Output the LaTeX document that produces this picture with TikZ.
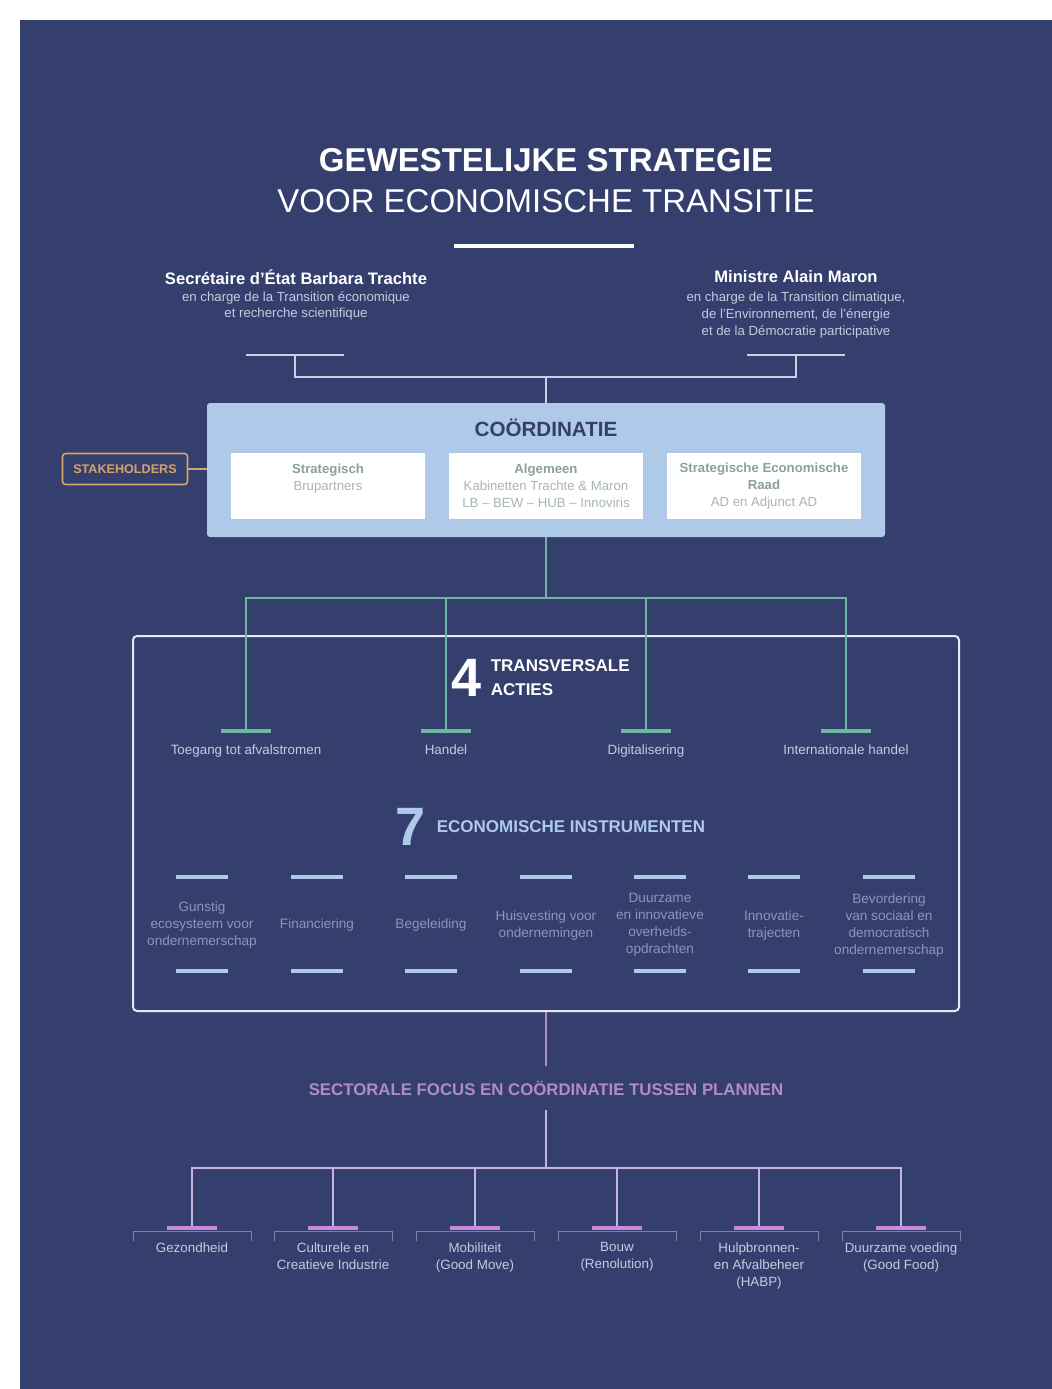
\documentclass[tikz,border=0pt]{standalone}
\usepackage{fontspec}
\setmainfont{Liberation Sans}
\usetikzlibrary{positioning}

\definecolor{bgnavy}{HTML}{353F6E}
\definecolor{paleblue}{HTML}{AFCAE9}
\definecolor{greyline}{HTML}{C9D0E6}
\definecolor{actgreen}{HTML}{6DB7A2}
\definecolor{softtext}{HTML}{C5CADD}
\definecolor{dimtext}{HTML}{8D95BA}
\definecolor{boxtext}{HTML}{A9B5B6}
\definecolor{boxhead}{HTML}{8AA196}
\definecolor{lilac}{HTML}{B48AC6}
\definecolor{lilacline}{HTML}{C4B6DA}
\definecolor{pinkbar}{HTML}{C98BD9}
\definecolor{bracketgrey}{HTML}{7A84AA}
\definecolor{stakeorange}{HTML}{D5A46A}
\definecolor{outline}{HTML}{E4E8F2}

\begin{document}
\begin{tikzpicture}[x=0.5pt, y=-0.5pt,
    every node/.style={inner sep=0pt, align=center},
    persname/.style={text=white, font=\bfseries\fontsize{8.3}{10}\selectfont},
    perssub/.style={text=softtext, font=\fontsize{6.6}{8.3}\selectfont},
    wbar/.style={fill=greyline, minimum width=49pt, minimum height=1.3pt},
    conn/.style={draw=greyline, line width=1pt},
    wbox/.style={fill=white, minimum width=97pt, minimum height=33pt, text=boxtext,
        font=\fontsize{6.6}{8.5}\selectfont},
    stakebox/.style={draw=stakeorange, line width=0.8pt, rounded corners=1.5pt, text=stakeorange,
        minimum width=62.5pt, minimum height=15.5pt, font=\bfseries\fontsize{6.3}{8}\selectfont},
    actbar/.style={fill=actgreen, minimum width=25pt, minimum height=2pt},
    actline/.style={draw=actgreen, line width=1pt},
    lbl/.style={text=softtext, font=\fontsize{6.7}{8.5}\selectfont},
    ibar/.style={fill=paleblue, minimum width=26pt, minimum height=1.6pt},
    ilbl/.style={text=dimtext, font=\fontsize{6.8}{8.5}\selectfont},
    bignum/.style={font=\bfseries\fontsize{27}{30}\selectfont},
    sectline/.style={draw=lilacline, line width=0.9pt},
    secbar/.style={fill=pinkbar, minimum width=25pt, minimum height=1.8pt},
    brk/.style={draw=bracketgrey, line width=0.5pt}]

    \useasboundingbox[fill=white] (0,0) rectangle (1052,1389);
    \fill[bgnavy] (20,20) rectangle (1052,1389);

    \node[font=\bfseries\fontsize{16.5}{20}\selectfont, text=white] (title) at (546,160) {GEWESTELIJKE STRATEGIE};
    \node[font=\fontsize{16.5}{20}\selectfont, text=white] (subtitle) at (546,201) {VOOR ECONOMISCHE TRANSITIE};
    \node[fill=white, minimum width=90pt, minimum height=1.6pt] (rule) at (544,246) {};

    \node[persname] (trachte) at (296,277) {Secrétaire d’État Barbara Trachte};
    \node[perssub] (trachtesub) at (296,306) {en charge de la Transition économique\\et recherche scientifique};
    \node[persname] (maron) at (796,277) {Ministre Alain Maron};
    \node[perssub] (maronsub) at (796,315) {en charge de la Transition climatique,\\de l’Environnement, de l’énergie\\et de la Démocratie participative};

    \node[wbar] (trachtebar) at (295,355) {};
    \node[wbar] (maronbar) at (796,355) {};
    \coordinate (topjoin) at (546,377);

    \node[fill=paleblue, minimum width=339pt, minimum height=67pt, rounded corners=1.5pt] (coord) at (546,470) {};
    \node[font=\bfseries\fontsize{10.3}{12}\selectfont, text=bgnavy] (coordtitle) at (546,428) {COÖRDINATIE};
    \node[wbox] (bru) at (328,486) {\textcolor{boxhead}{\bfseries Strategisch}\\Brupartners\\~};
    \node[wbox] (alg) at (546,486) {\textcolor{boxhead}{\bfseries Algemeen}\\Kabinetten Trachte \& Maron\\LB -- BEW -- HUB -- Innoviris};
    \node[wbox] (ser) at (764,486) {\textcolor{boxhead}{\bfseries Strategische Economische}\\\textcolor{boxhead}{\bfseries Raad}\\AD en Adjunct AD};

    \node[stakebox] (stake) at (125,469) {STAKEHOLDERS};
    \draw[draw=stakeorange, line width=0.8pt] (stake.east) -- (coord.west |- stake.east);

    \draw[conn] (trachtebar.center) |- (topjoin) -| (maronbar.center);
    \draw[conn] (topjoin) -- (coord.north);

    \node[draw=outline, line width=1pt, rounded corners=2pt, minimum width=413pt, minimum height=187.5pt] (outer) at (546,823.5) {};

    \coordinate (actjoin) at (546,598);
    \draw[actline] (coord.south) -- (actjoin);
    \foreach \x/\t [count=\i] in {246/Toegang tot afvalstromen, 446/Handel, 646/Digitalisering, 846/Internationale handel} {
        \node[actbar] (act\i) at (\x,731) {};
        \draw[actline] (actjoin) -| (act\i.north);
        \node[lbl, below=5.5pt of act\i] (actlbl\i) {\t};
    }

    \node[bignum, text=white] (four) at (467,678) {4};
    \node[text=white, align=left, font=\bfseries\fontsize{8.5}{12}\selectfont, right=4pt of four] (trans) {TRANSVERSALE\\ACTIES};

    \node[bignum, text=paleblue] (seven) at (411,827) {7};
    \node[text=paleblue, font=\bfseries\fontsize{8.5}{10}\selectfont, right=5pt of seven] (instr) {ECONOMISCHE INSTRUMENTEN};

    \foreach \x/\t [count=\i] in {202/{Gunstig\\ecosysteem voor\\ondernemerschap}, 317/Financiering, 431/Begeleiding,
        546/{Huisvesting voor\\ondernemingen}, 660/{Duurzame\\en innovatieve\\overheids-\\opdrachten},
        774/{Innovatie-\\trajecten}, 889/{Bevordering\\van sociaal en\\democratisch\\ondernemerschap}} {
        \node[ibar] (itop\i) at (\x,877) {};
        \node[ilbl] (ilbl\i) at (\x,925) {\t};
        \node[ibar] (ibot\i) at (\x,971) {};
    }

    \node[text=lilac, font=\bfseries\fontsize{8.4}{10}\selectfont] (sector) at (546,1088) {SECTORALE FOCUS EN COÖRDINATIE TUSSEN PLANNEN};
    \draw[draw=lilac, line width=0.9pt] (outer.south) -- ([yshift=7pt]sector.north);
    \coordinate (secjoin) at (546,1168);
    \draw[sectline] ([yshift=-7pt]sector.south) -- (secjoin);
    \foreach \x/\t [count=\i] in {192/Gezondheid, 333/{Culturele en\\Creatieve Industrie}, 475/{Mobiliteit\\(Good Move)},
        617/{Bouw\\(Renolution)}, 759/{Hulpbronnen-\\en Afvalbeheer\\(HABP)}, 901/{Duurzame voeding\\(Good Food)}} {
        \draw[brk] (\x-59,1241) -- (\x-59,1231) -- (\x+59,1231) -- (\x+59,1241);
        \node[secbar] (sec\i) at (\x,1228) {};
        \draw[sectline] (secjoin) -| (sec\i.north);
        \node[lbl, anchor=north] (seclbl\i) at (\x,1242) {\t};
    }
\end{tikzpicture}
\end{document}
